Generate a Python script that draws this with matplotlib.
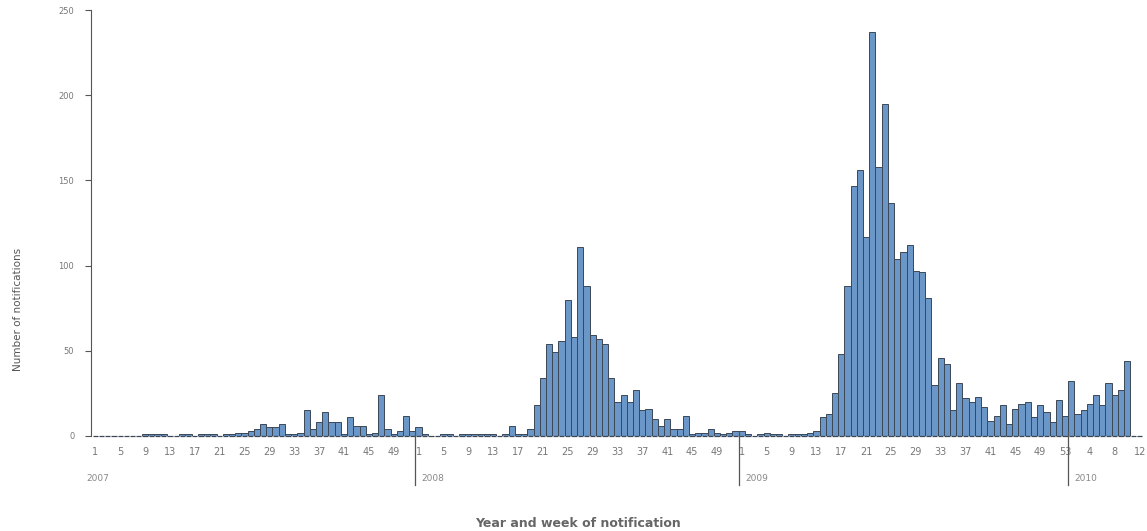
import numpy as np
import matplotlib
matplotlib.use("Agg")
import matplotlib.pyplot as plt
import matplotlib.transforms as mtransforms

# --- weekly notifications ---
weeks_2007 = [0, 0, 0, 0, 0, 0, 0, 0, 1, 1, 1, 1, 0, 0, 1, 1, 0, 1, 1, 1,
              0, 1, 1, 2, 2, 3, 4, 7, 5, 5, 7, 1, 1, 2, 15, 4, 8, 14, 8, 8,
              1, 11, 6, 6, 1, 2, 24, 4, 1, 3, 12, 3]
weeks_2008 = [5, 1, 0, 0, 1, 1, 0, 1, 1, 1, 1, 1, 1, 0, 1, 6, 1, 1, 4, 18,
              34, 54, 49, 56, 80, 58, 111, 88, 59, 57, 54, 34, 20, 24, 20, 27, 15, 16, 10, 6,
              10, 4, 4, 12, 1, 2, 2, 4, 2, 1, 2, 3]
weeks_2009 = [3, 1, 0, 1, 2, 1, 1, 0, 1, 1, 1, 2, 3, 11, 13, 25, 48, 88, 147, 156,
              117, 237, 158, 195, 137, 104, 108, 112, 97, 96, 81, 30, 46, 42, 15, 31, 22, 20, 23, 17,
              9, 12, 18, 7, 16, 19, 20, 11, 18, 14, 8, 21, 12]
weeks_2010 = [32, 13, 15, 19, 24, 18, 31, 24, 27, 44, 0, 0]

years = ["2007", "2008", "2009", "2010"]
yticks = [0, 50, 100, 150, 200, 250]

series = [weeks_2007, weeks_2008, weeks_2009, weeks_2010]
counts = np.concatenate([np.array(s) for s in series])
week_no = np.concatenate([np.arange(1, len(s) + 1) for s in series])
x = np.arange(len(counts))
starts = np.cumsum([0] + [len(s) for s in series[:-1]])

fig = plt.figure(figsize=(11.47, 5.31), dpi=100)
ax = fig.add_axes([0.0793, 0.179, 0.917, 0.802])

ax.bar(x, counts, width=1.0, color="#6b96c8", edgecolor="#3d4756", linewidth=0.7)
# zero weeks show up as short strokes on the baseline
ax.hlines(np.zeros(len(x)), x - 0.42, x + 0.42, color="#3d4756", linewidth=0.9,
          clip_on=False)

ax.set_xlim(-0.7, len(counts) - 0.5)
ax.set_ylim(0, 250)

# y axis
ax.set_yticks(yticks)
ax.set_yticklabels([str(v) for v in yticks], fontsize=6, color="#777777")
ax.tick_params(axis="y", length=4, color="#555555", pad=8)
ax.spines["left"].set_bounds(0, 250)
ax.spines["left"].set_color("#555555")
for s in ["top", "right", "bottom"]:
    ax.spines[s].set_visible(False)

# x axis: every 4th week, running on across years
tick_idx = x[::4]
ax.set_xticks(tick_idx)
ax.set_xticklabels([str(w) for w in week_no[::4]], fontsize=7, color="#777777")
ax.tick_params(axis="x", length=0, pad=8)

# year separators and year labels
trans = mtransforms.blended_transform_factory(ax.transData, ax.transAxes)
for i, (st, yr) in enumerate(zip(starts, years)):
    xb = st - 0.5
    if i == 0:
        ax.text(xb - 1, -0.10, yr, transform=trans, fontsize=6.5, color="#888888",
                ha="left", va="center")
    else:
        ax.plot([xb, xb], [0.01, -0.115], transform=trans, color="#555555",
                linewidth=0.9, clip_on=False)
        ax.text(xb + 1, -0.10, yr, transform=trans, fontsize=6.5, color="#888888",
                ha="left", va="center")

fig.text(0.016, 0.418, "Number of notifications", rotation=90, fontsize=7.5,
         color="#555555", ha="center", va="center")
fig.text(0.504, 0.015, "Year and week of notification", fontsize=9, fontweight="bold",
         color="#666666", ha="center", va="center")

fig.savefig("out.png", dpi=100)
